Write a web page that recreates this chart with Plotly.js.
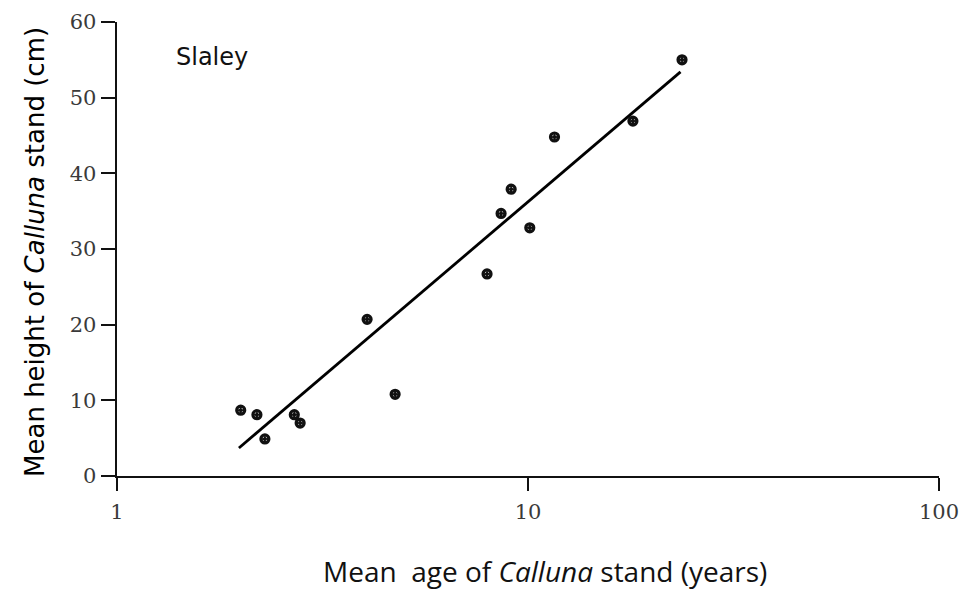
<!DOCTYPE html>
<html>
<head>
<meta charset="utf-8">
<script src="https://cdn.plot.ly/plotly-3.0.1.min.js"></script>
<style>html,body{margin:0;padding:0;background:#fff;}#chart{width:964px;height:589px;}</style>
</head>
<body>
<div id="chart"></div>
<script>
// Observed stands: mean age (years) and mean height (cm)
var ageYears = [2.0, 2.19, 2.29, 2.70, 2.79, 4.06, 4.75, 7.95, 8.6, 9.1, 10.1, 11.6, 18.0, 23.7];
var heightCm = [8.7, 8.1, 4.9, 8.1, 7.0, 20.7, 10.8, 26.7, 34.7, 37.9, 32.8, 44.8, 46.9, 55.0];
// Fitted regression line (end points)
var fitAge = [1.98, 23.5];
var fitHeight = [3.7, 53.4];
// Tick labels
var xTickVals = [1, 10, 100];
var xTickText = ['1', '10', '100'];
var yTickVals = [0, 10, 20, 30, 40, 50, 60];
var yTickText = ['0', '10', '20', '30', '40', '50', '60'];
var siteLabel = 'Slaley';
var xTitle = 'Mean&nbsp; age of <i>Calluna</i> stand (years)';
var yTitle = 'Mean height of <i>Calluna</i> stand (cm)';

var traces = [
  {
    x: fitAge, y: fitHeight, type: 'scatter', mode: 'lines',
    line: {color: '#000', width: 2.8}, hoverinfo: 'skip', showlegend: false
  },
  {
    x: ageYears, y: heightCm, type: 'scatter', mode: 'markers',
    marker: {symbol: 'circle-open-dot', size: 8, color: '#111', line: {width: 3.2, color: '#111'}},
    showlegend: false
  }
];

var tickFont = {family: 'DejaVu Serif, Liberation Serif, serif', size: 21, color: '#3a3a3a'};

var layout = {
  width: 964, height: 589,
  margin: {l: 117, r: 25, t: 22, b: 113},
  paper_bgcolor: '#fff', plot_bgcolor: '#fff',
  showlegend: false,
  xaxis: {
    type: 'log', range: [0, 2],
    tickvals: xTickVals, ticktext: xTickText,
    ticks: 'outside', ticklen: 13, tickwidth: 2, tickcolor: '#111',
    ticklabelstandoff: 2,
    showline: true, linecolor: '#111', linewidth: 2.4,
    showgrid: false, zeroline: false,
    tickfont: tickFont
  },
  yaxis: {
    range: [0, 60],
    tickvals: yTickVals, ticktext: yTickText,
    ticks: 'outside', ticklen: 14, tickwidth: 2, tickcolor: '#111',
    ticklabelstandoff: 0,
    showline: true, linecolor: '#111', linewidth: 2.4,
    showgrid: false, zeroline: false,
    tickfont: tickFont
  },
  annotations: [
    {
      text: siteLabel, xref: 'paper', yref: 'paper', x: 0.069, y: 0.923,
      xanchor: 'left', yanchor: 'middle', showarrow: false,
      font: {family: 'DejaVu Sans, sans-serif', size: 24, color: '#111'}
    },
    {
      text: xTitle, xref: 'paper', yref: 'paper', x: 0.521, y: -0.209,
      xanchor: 'center', yanchor: 'middle', showarrow: false,
      font: {family: 'Open Sans, DejaVu Sans, sans-serif', size: 28, color: '#111'}
    },
    {
      text: yTitle, xref: 'paper', yref: 'paper', x: -0.1, y: 0.493,
      xanchor: 'center', yanchor: 'middle', showarrow: false, textangle: -90,
      font: {family: 'DejaVu Sans, sans-serif', size: 26, color: '#000'}
    }
  ]
};

Plotly.newPlot('chart', traces, layout, {displayModeBar: false, staticPlot: true});
</script>
</body>
</html>
